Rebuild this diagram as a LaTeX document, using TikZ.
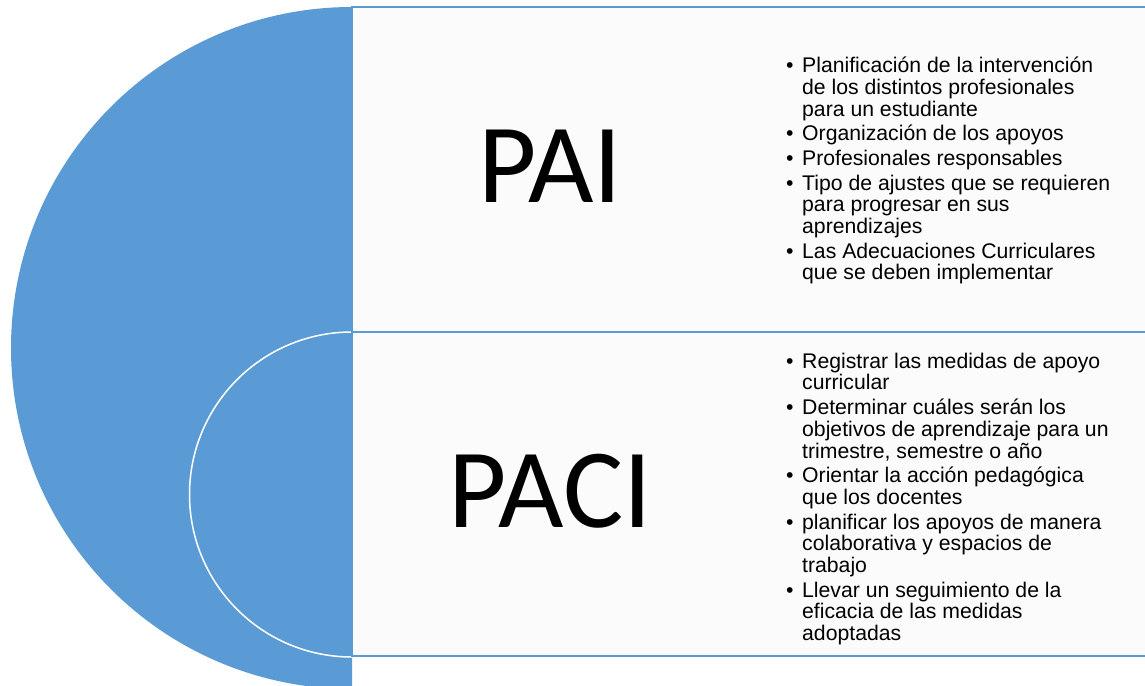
\documentclass[tikz,border=0pt]{standalone}
\usepackage{fontspec}
\setmainfont{Liberation Sans}
\newfontfamily\calibri{Carlito}
\definecolor{blu}{HTML}{5B9BD5}
\newcommand\blines[1]{\begin{tabular}[t]{@{}l@{}}#1\end{tabular}}
\begin{document}
\begin{tikzpicture}[x=1pt,y=-1pt,
  bul/.style={anchor=base west, inner sep=0pt, font=\fontsize{21.2}{21.5}\selectfont},
  dot/.style={anchor=base west, inner sep=0pt, font=\fontsize{21.2}{21.5}\selectfont},
  big/.style={anchor=base, inner sep=0pt, font=\calibri\fontsize{113}{113}\selectfont},
  box/.style={draw=blu, line width=1.5pt, fill=white!98.5!black}]
\useasboundingbox (0,0) rectangle (1145,685);
\begin{scope}
\clip (0,0) rectangle (1145,685);
\fill[white] (0,0) rectangle (1145,685);
\fill[blu] (352,7) arc[start angle=270, end angle=90, radius=341] -- cycle;
\draw[white, line width=1.5pt] (352,332) arc[start angle=270, end angle=90, radius=162.5];
\draw[box] (352,7) rectangle (1150,332);
\draw[box] (352,332) rectangle (1150,656);
\end{scope}
\node[big] (pai) at (550,202) {PAI};
\node[big] (paci) at (550,527) {PACI};
% top bullets
\node[dot] (d1) at (786,73) {•};
\node[bul] (t1) at (802,73) {\blines{Planificación de la intervención\\de los distintos profesionales\\para un estudiante}};
\node[dot] (d2) at (786,140) {•};
\node[bul] (t2) at (802,140) {Organización de los apoyos};
\node[dot] (d3) at (786,165) {•};
\node[bul] (t3) at (802,165) {Profesionales responsables};
\node[dot] (d4) at (786,190) {•};
\node[bul] (t4) at (802,190) {\blines{Tipo de ajustes que se requieren\\para progresar en sus\\aprendizajes}};
\node[dot] (d5) at (786,258) {•};
\node[bul] (t5) at (802,258) {\blines{Las Adecuaciones Curriculares\\que se deben implementar}};
% bottom bullets
\node[dot] (e1) at (786,368) {•};
\node[bul] (s1) at (802,368) {\blines{Registrar las medidas de apoyo\\curricular}};
\node[dot] (e2) at (786,414.5) {•};
\node[bul] (s2) at (802,414.5) {\blines{Determinar cuáles serán los\\objetivos de aprendizaje para un\\trimestre, semestre o año}};
\node[dot] (e3) at (786,482.5) {•};
\node[bul] (s3) at (802,482.5) {\blines{Orientar la acción pedagógica\\que los docentes}};
\node[dot] (e4) at (786,529) {•};
\node[bul] (s4) at (802,529) {\blines{planificar los apoyos de manera\\colaborativa y espacios de\\trabajo}};
\node[dot] (e5) at (786,597) {•};
\node[bul] (s5) at (802,597) {\blines{Llevar un seguimiento de la\\eficacia de las medidas\\adoptadas}};
\end{tikzpicture}
\end{document}
